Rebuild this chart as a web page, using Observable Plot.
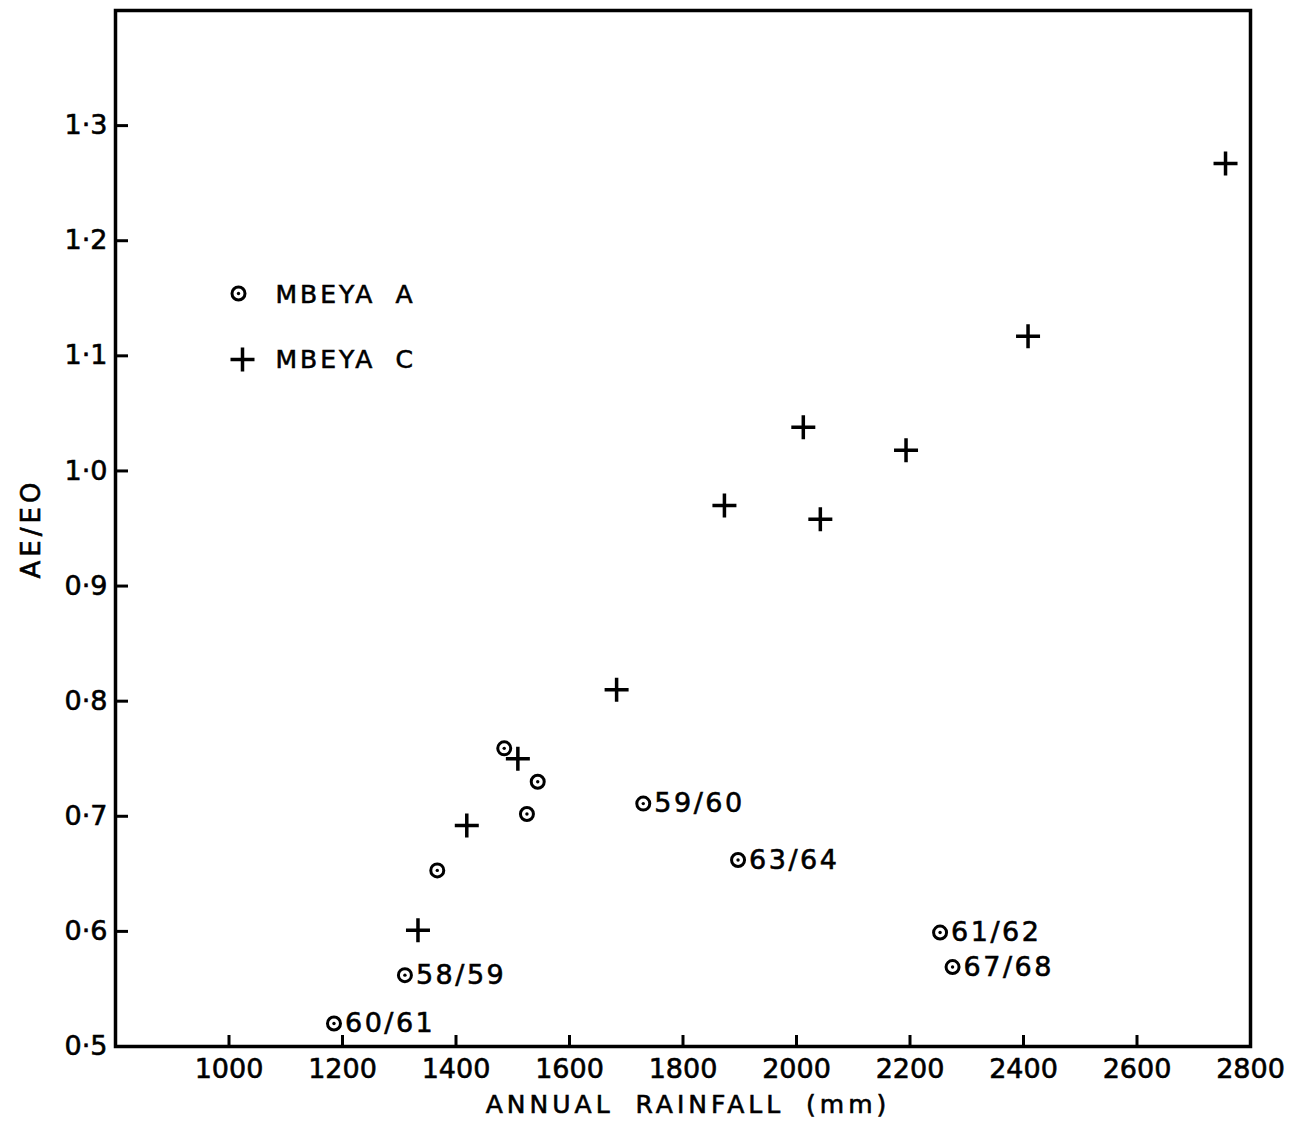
<!DOCTYPE html>
<html>
<head>
<meta charset="utf-8">
<script src="https://cdn.jsdelivr.net/npm/d3@7"></script>
<script src="https://cdn.jsdelivr.net/npm/@observablehq/plot@0.6"></script>
<style>
  html, body { margin: 0; padding: 0; background: #fff; }
  #chart svg { display: block; }
  #chart svg text { stroke: #000; stroke-width: 0.6px; }
</style>
</head>
<body>
<div id="chart"></div>
<script>
// Mbeya A: annual rainfall (mm) against AE/EO, with season labels
const stationARain  = [1185, 1310, 1367, 1485, 1525, 1544, 1730, 1897, 2253, 2275];
const stationARatio = [0.520, 0.562, 0.653, 0.759, 0.702, 0.730, 0.711, 0.662, 0.599, 0.569];
const stationALabel = ["60/61", "58/59", "", "", "", "", "59/60", "63/64", "61/62", "67/68"];

// Mbeya C: annual rainfall (mm) against AE/EO
const stationCRain  = [1333, 1419, 1509, 1683, 1873, 2012, 2042, 2193, 2408, 2756];
const stationCRatio = [0.601, 0.692, 0.750, 0.810, 0.970, 1.038, 0.958, 1.018, 1.117, 1.267];

// Axis ticks
const xTicks = [1000, 1200, 1400, 1600, 1800, 2000, 2200, 2400, 2600, 2800];
const yTicks = [0.5, 0.6, 0.7, 0.8, 0.9, 1.0, 1.1, 1.2, 1.3];

// Legend entries and axis titles
const legendNames = ["MBEYA A", "MBEYA C"];
const xTitle = "ANNUAL RAINFALL (mm)";
const yTitle = "AE/EO";

const stationA = stationARain.map((rain, i) => ({rain, ratio: stationARatio[i], label: stationALabel[i]}));
const stationC = stationCRain.map((rain, i) => ({rain, ratio: stationCRatio[i]}));

// Open plus sign drawn as two strokes; r is the arm half-length
const plusSymbol = {
  draw(context, size) {
    const h = Math.sqrt(size / Math.PI);
    context.moveTo(-h, 0); context.lineTo(h, 0);
    context.moveTo(0, -h); context.lineTo(0, h);
  }
};

const font = "DejaVu Sans";

const chart = Plot.plot({
  width: 1291,
  height: 1126,
  marginLeft: 115,
  marginRight: 41,
  marginTop: 10,
  marginBottom: 80,
  style: {fontFamily: font, color: "#000", background: "#fff"},
  x: {domain: [800, 2800]},
  y: {domain: [0.5, 1.4]},
  marks: [
    // inward tick marks
    Plot.axisX({ticks: xTicks, tickSize: -11, strokeWidth: 3, tickFormat: () => "", label: null}),
    Plot.axisY({ticks: yTicks, tickSize: -13, strokeWidth: 3, tickFormat: () => "", label: null}),
    // tick labels
    Plot.axisX({ticks: xTicks, tickSize: 0, tickPadding: 12, fontSize: 27, tickFormat: d => String(d), label: null}),
    Plot.axisY({ticks: yTicks, tickSize: 0, tickPadding: 8, fontSize: 27, tickFormat: d => d.toFixed(1).replace(".", "·"), label: null}),
    Plot.frame({stroke: "#000", strokeWidth: 3.5}),

    // axis titles
    Plot.text([xTitle], {frameAnchor: "bottom", dx: 5, dy: 58, text: d => d, lineAnchor: "middle", textAnchor: "middle", fontSize: 25}),
    Plot.text([yTitle], {frameAnchor: "left", dx: -84, rotate: -90, text: d => d, lineAnchor: "middle", textAnchor: "middle", fontSize: 26}),

    // Mbeya A: ringed dots
    Plot.dot(stationA, {x: "rain", y: "ratio", r: 6.5, fill: "#fff", stroke: "#000", strokeWidth: 3}),
    Plot.dot(stationA, {x: "rain", y: "ratio", r: 1.7, fill: "#000", stroke: "none"}),
    Plot.text(stationA.filter(d => d.label), {x: "rain", y: "ratio", text: "label", textAnchor: "start", lineAnchor: "middle", dx: 11, fontSize: 27}),

    // Mbeya C: plus signs
    Plot.dot(stationC, {x: "rain", y: "ratio", symbol: plusSymbol, r: 12, fill: "none", stroke: "#000", strokeWidth: 3.5}),

    // legend
    Plot.dot([legendNames[0]], {frameAnchor: "top-left", dx: 123, dy: 283, r: 6.5, fill: "#fff", stroke: "#000", strokeWidth: 3}),
    Plot.dot([legendNames[0]], {frameAnchor: "top-left", dx: 123, dy: 283, r: 1.7, fill: "#000", stroke: "none"}),
    Plot.dot([legendNames[1]], {frameAnchor: "top-left", dx: 127, dy: 349, symbol: plusSymbol, r: 12, fill: "none", stroke: "#000", strokeWidth: 3.5}),
    Plot.text([legendNames[0]], {frameAnchor: "top-left", dx: 160, dy: 284, text: d => d, textAnchor: "start", lineAnchor: "middle", fontSize: 25}),
    Plot.text([legendNames[1]], {frameAnchor: "top-left", dx: 160, dy: 349, text: d => d, textAnchor: "start", lineAnchor: "middle", fontSize: 25})
  ]
});

// Wide, typewriter-like spacing for the lettering
const spacing = new Map([
  [xTitle, ["4px", "10px"]],
  [yTitle, ["4px", "0px"]],
  [legendNames[0], ["3px", "9px"]],
  [legendNames[1], ["3px", "9px"]]
]);
stationALabel.filter(Boolean).forEach(l => spacing.set(l, ["2.5px", "0px"]));
d3.select(chart).selectAll("text").each(function() {
  const s = spacing.get(this.textContent);
  if (s) {
    this.style.letterSpacing = s[0];
    this.style.wordSpacing = s[1];
  }
});

document.getElementById("chart").appendChild(chart);
</script>
</body>
</html>
